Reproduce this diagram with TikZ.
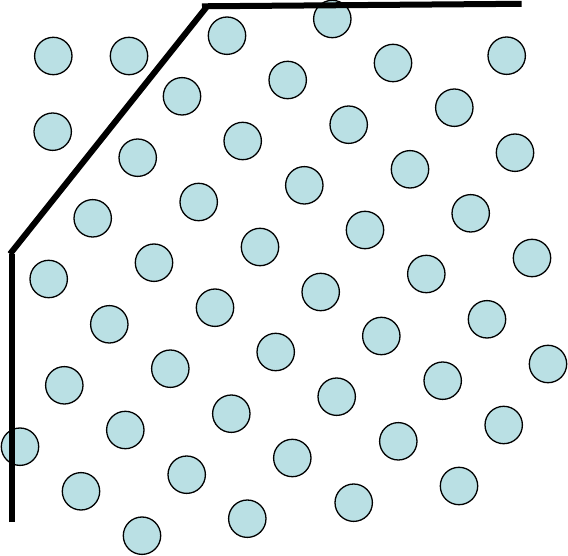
\documentclass[tikz,border=0pt]{standalone}
\definecolor{atomfill}{RGB}{186,224,228}
\begin{document}
\begin{tikzpicture}[x=1pt,y=-1pt,
  atom/.style={circle,draw=black,fill=atomfill,line width=1.3pt,minimum size=37.4pt,inner sep=0pt},
  boundary/.style={line width=6pt,line cap=butt}]
\useasboundingbox (0,0) rectangle (568,556);
\foreach \x/\y [count=\i] in {
 53.3/56, 129/56, 52.7/131.7, 227/35.7, 332.3/19, 182/96.3, 287.7/80, 393/63,
 506.7/55.7, 137.7/157.7, 242.7/141, 348.7/124.7, 454.3/107.7, 92.7/218.3,
 198.7/202, 304.3/185.3, 410/169.3, 515/152.7, 48.7/279, 154/262.7, 260/247,
 365/230, 470.7/213.3, 532/258, 109.3/324.3, 215/307.7, 320.7/292, 426.3/274,
 487/319.3, 64.3/385.3, 170.3/368.7, 275.7/352, 381.3/336, 548/364, 20/446.7,
 125.3/430, 231.3/413.7, 336.7/396.7, 442.7/380.7, 503.7/425, 81/491.3,
 186.7/474.7, 292.3/458, 398.3/441.3, 142/535.7, 247.3/518.7, 353.7/502.7, 459/486}
 \node[atom] (c\i) at (\x,\y) {};
\coordinate (b1) at (12.3,522);
\coordinate (b2) at (12.3,254);
\coordinate (b3) at (10,254);
\coordinate (b4) at (207,6.5);
\coordinate (b5) at (202,6.3);
\coordinate (b6) at (521.7,3.8);
\draw[boundary] (b1) -- (b2);
\draw[boundary] (b3) -- (b4);
\draw[boundary] (b5) -- (b6);
\end{tikzpicture}
\end{document}
